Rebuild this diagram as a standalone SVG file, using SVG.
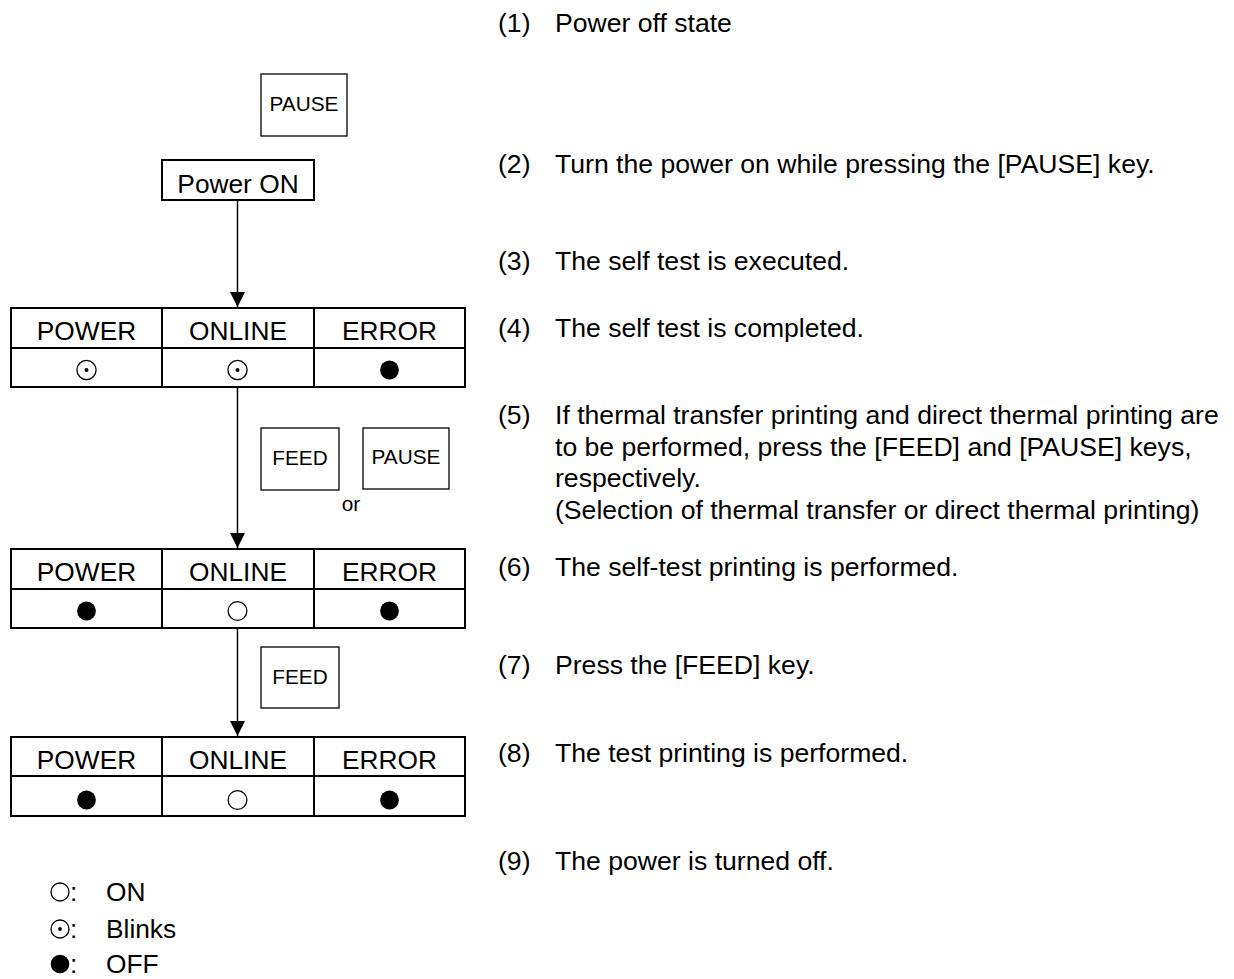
<svg xmlns="http://www.w3.org/2000/svg" width="1234" height="979" viewBox="0 0 1234 979">
<defs>
<style>
text{font-family:"Liberation Sans",Arial,sans-serif;fill:#000}
.t{font-size:26.6px}
.tb{font-size:26.3px}
.c{text-anchor:middle}
.k{font-size:20.8px}
.box{fill:none;stroke:#000;stroke-width:2}
.key{fill:none;stroke:#000;stroke-width:1.3}
.tl{stroke:#000;stroke-width:2;fill:none}
.ring{fill:#fff;stroke:#000;stroke-width:1.3}
.dot{fill:#000}
.ln{stroke:#000;stroke-width:1.5;fill:none}
</style>
<marker id="ah" markerWidth="16" markerHeight="15" refX="15" refY="7.5" orient="auto" markerUnits="userSpaceOnUse">
<path d="M0,0 L15,7.5 L0,15 Z" fill="#000"/>
</marker>
</defs>
<rect width="1234" height="979" fill="#fff"/>

<g id="connectors">
<line class="ln" x1="237.5" y1="200" x2="237.5" y2="307" marker-end="url(#ah)"/>
<line class="ln" x1="237.5" y1="387" x2="237.5" y2="548" marker-end="url(#ah)"/>
<line class="ln" x1="237.5" y1="628" x2="237.5" y2="736" marker-end="url(#ah)"/>
</g>

<g id="key-pause-1">
<rect class="key" x="261" y="74" width="86" height="62"/>
<text class="k c" x="304" y="111">PAUSE</text>
</g>

<g id="power-on">
<rect class="box" x="162" y="160" width="152" height="40"/>
<text class="tb c" x="238" y="193">Power ON</text>
</g>

<g id="state-1">
<rect class="tl" x="11" y="308" width="454" height="79"/>
<line class="tl" x1="11" y1="348" x2="465" y2="348"/>
<line class="tl" x1="162" y1="308" x2="162" y2="387"/>
<line class="tl" x1="314" y1="308" x2="314" y2="387"/>
<text class="tb c" x="86.5" y="340">POWER</text>
<text class="tb c" x="238" y="340">ONLINE</text>
<text class="tb c" x="389.5" y="340">ERROR</text>
<circle class="ring" cx="86.5" cy="370" r="9.6"/><circle class="dot" cx="86.5" cy="370" r="2"/>
<circle class="ring" cx="237.5" cy="370" r="9.6"/><circle class="dot" cx="237.5" cy="370" r="2"/>
<circle class="dot" cx="389.5" cy="370" r="9.4"/>
</g>

<g id="key-feed-1">
<rect class="key" x="261" y="428" width="78" height="62"/>
<text class="k c" x="300" y="465">FEED</text>
</g>
<g id="key-pause-2">
<rect class="key" x="363" y="428" width="86" height="61"/>
<text class="k c" x="406" y="464">PAUSE</text>
</g>
<text id="or" class="k c" x="351" y="511">or</text>

<g id="state-2">
<rect class="tl" x="11" y="549" width="454" height="79"/>
<line class="tl" x1="11" y1="589" x2="465" y2="589"/>
<line class="tl" x1="162" y1="549" x2="162" y2="628"/>
<line class="tl" x1="314" y1="549" x2="314" y2="628"/>
<text class="tb c" x="86.5" y="581">POWER</text>
<text class="tb c" x="238" y="581">ONLINE</text>
<text class="tb c" x="389.5" y="581">ERROR</text>
<circle class="dot" cx="86.5" cy="611" r="9.4"/>
<circle class="ring" cx="237.5" cy="611" r="9.4"/>
<circle class="dot" cx="389.5" cy="611" r="9.4"/>
</g>

<g id="key-feed-2">
<rect class="key" x="261" y="647" width="78" height="61"/>
<text class="k c" x="300" y="684">FEED</text>
</g>

<g id="state-3">
<rect class="tl" x="11" y="737" width="454" height="79"/>
<line class="tl" x1="11" y1="776" x2="465" y2="776"/>
<line class="tl" x1="162" y1="737" x2="162" y2="816"/>
<line class="tl" x1="314" y1="737" x2="314" y2="816"/>
<text class="tb c" x="86.5" y="769">POWER</text>
<text class="tb c" x="238" y="769">ONLINE</text>
<text class="tb c" x="389.5" y="769">ERROR</text>
<circle class="dot" cx="86.5" cy="800" r="9.4"/>
<circle class="ring" cx="237.5" cy="800" r="9.4"/>
<circle class="dot" cx="389.5" cy="800" r="9.4"/>
</g>

<g id="legend">
<circle class="ring" cx="60" cy="892" r="9"/>
<text class="tb" x="70" y="901">:</text>
<text class="tb" x="106" y="901">ON</text>
<circle class="ring" cx="60" cy="929" r="9"/><circle class="dot" cx="60" cy="929" r="1.9"/>
<text class="tb" x="70" y="938">:</text>
<text class="tb" x="106" y="938">Blinks</text>
<circle class="dot" cx="60" cy="964" r="9.3"/>
<text class="tb" x="70" y="973">:</text>
<text class="tb" x="106" y="973">OFF</text>
</g>

<g id="steps">
<text class="t" x="498" y="32">(1)</text><text class="t" x="555" y="32">Power off state</text>
<text class="t" x="498" y="173">(2)</text><text class="t" x="555" y="173">Turn the power on while pressing the [PAUSE] key.</text>
<text class="t" x="498" y="270">(3)</text><text class="t" x="555" y="270">The self test is executed.</text>
<text class="t" x="498" y="337">(4)</text><text class="t" x="555" y="337">The self test is completed.</text>
<text class="t" x="498" y="424">(5)</text><text class="t" x="555" y="424">If thermal transfer printing and direct thermal printing are</text>
<text class="t" x="555" y="455.5">to be performed, press the [FEED] and [PAUSE] keys,</text>
<text class="t" x="555" y="487">respectively.</text>
<text class="t" x="555" y="518.5">(Selection of thermal transfer or direct thermal printing)</text>
<text class="t" x="498" y="576">(6)</text><text class="t" x="555" y="576">The self-test printing is performed.</text>
<text class="t" x="498" y="674">(7)</text><text class="t" x="555" y="674">Press the [FEED] key.</text>
<text class="t" x="498" y="762">(8)</text><text class="t" x="555" y="762">The test printing is performed.</text>
<text class="t" x="498" y="870">(9)</text><text class="t" x="555" y="870">The power is turned off.</text>
</g>
</svg>
